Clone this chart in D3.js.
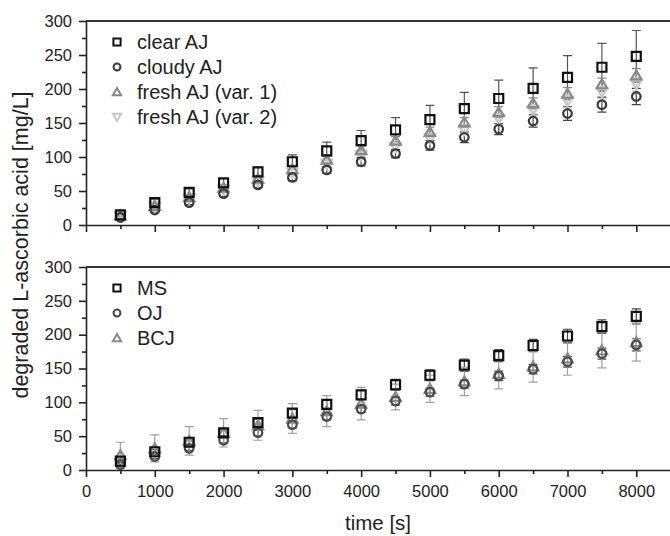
<!DOCTYPE html>
<html lang="en">
<head>
<meta charset="utf-8">
<title>Degraded L-ascorbic acid</title>
<script src="https://d3js.org/d3.v7.min.js"></script>
<style>
  body { margin: 0; background: #fff; }
  text { font-family: "Liberation Sans", Arial, sans-serif; fill: #222; }
</style>
</head>
<body>
<div id="chart"></div>
<script>
// time points [s]
var times = [500, 1000, 1500, 2000, 2500, 3000, 3500, 4000, 4500, 5000, 5500, 6000, 6500, 7000, 7500, 8000];

// top panel: apple juices
var clearAJ      = [15, 33, 48, 62, 78, 93, 109, 124, 140, 155, 171, 186, 201, 217, 232, 248];
var clearAJErr   = [3, 5, 5, 6, 7, 10, 13, 15, 18, 21, 24, 27, 30, 32, 35, 38];
var cloudyAJ     = [11, 22, 33, 46, 59, 70, 81, 93, 105, 117, 129, 141, 153, 164, 177, 189];
var cloudyAJErr  = [2, 3, 3, 4, 4, 5, 5, 6, 6, 7, 8, 8, 9, 10, 11, 12];
var freshAJ1     = [14, 28, 41, 55, 68, 82, 96, 110, 124, 137, 151, 166, 179, 193, 207, 220];
var freshAJ1Err  = [2, 3, 3, 4, 4, 5, 5, 6, 6, 7, 7, 8, 8, 9, 9, 10];
var freshAJ2     = [13, 27, 39, 52, 64, 77, 90, 102, 115, 127, 140, 156, 169, 182, 195, 207];
var freshAJ2Err  = [2, 3, 3, 4, 4, 5, 5, 6, 6, 7, 7, 8, 8, 9, 9, 10];

// bottom panel
var ms      = [13, 27, 41, 55, 70, 84, 97, 111, 126, 140, 155, 169, 184, 198, 212, 227];
var msErr   = [2, 3, 4, 4, 5, 6, 7, 7, 8, 8, 9, 9, 9, 10, 10, 11];
var oj      = [8, 20, 32, 44, 55, 67, 79, 90, 102, 115, 127, 139, 149, 160, 172, 185];
var ojErr   = [2, 3, 3, 4, 4, 5, 5, 5, 6, 6, 6, 7, 7, 8, 8, 9];
var bcj     = [22, 32, 43, 55, 66, 76, 87, 98, 108, 120, 131, 142, 153, 165, 177, 189];
var bcjErr  = [19, 20, 21, 21, 22, 22, 23, 24, 19, 20, 21, 22, 23, 25, 26, 28];

var yTicks = [0, 50, 100, 150, 200, 250, 300];
var xTicks = [0, 1000, 2000, 3000, 4000, 5000, 6000, 7000, 8000];

var W = 670, H = 536;
var left = 86, right = 670;

var svg = d3.select("#chart").append("svg")
    .attr("width", W).attr("height", H);

var x = d3.scaleLinear().domain([0, 8490]).range([left, right]);

var panels = [
    { top: 21, bottom: 225, labels: false,
      series: [
        { name: "clear AJ", vals: clearAJ, err: clearAJErr, shape: "square", color: "#111", errColor: "#555" },
        { name: "cloudy AJ", vals: cloudyAJ, err: cloudyAJErr, shape: "circle", color: "#3c3c3c", errColor: "#444" },
        { name: "fresh AJ (var. 1)", vals: freshAJ1, err: freshAJ1Err, shape: "up", color: "#888", errColor: "#888" },
        { name: "fresh AJ (var. 2)", vals: freshAJ2, err: freshAJ2Err, shape: "down", color: "#c8c8c8", errColor: "#c8c8c8" }
      ] },
    { top: 267, bottom: 470, labels: true,
      series: [
        { name: "MS", vals: ms, err: msErr, shape: "square", color: "#111", errColor: "#444" },
        { name: "OJ", vals: oj, err: ojErr, shape: "circle", color: "#4a4a4a", errColor: "#555" },
        { name: "BCJ", vals: bcj, err: bcjErr, shape: "up", color: "#8a8a8a", errColor: "#a0a0a0" }
      ] }
];

function markerPath(shape, k) {
    k = k || 1;
    var a = 4.5 * k, r = 4.3 * k, t = 5.2 * k, h1 = 5 * k, h2 = 4 * k;
    if (shape === "square") return "M" + -a + "," + -a + "H" + a + "V" + a + "H" + -a + "Z";
    if (shape === "circle") return "M" + r + ",0A" + r + "," + r + " 0 1,1 " + -r + ",0A" + r + "," + r + " 0 1,1 " + r + ",0Z";
    if (shape === "up") return "M0," + -h1 + "L" + t + "," + h2 + "H" + -t + "Z";
    return "M0," + h1 + "L" + t + "," + -h2 + "H" + -t + "Z";
}

panels.forEach(function(p) {
    var y = d3.scaleLinear().domain([0, 300]).range([p.bottom, p.top]);
    var g = svg.append("g");

    // minor ticks
    var minorY = d3.range(0, 301, 25).filter(function(d) { return d % 50 !== 0; });
    var minorX = d3.range(500, 8001, 1000);

    g.append("g")
        .attr("transform", "translate(" + left + ",0)")
        .call(d3.axisLeft(y).tickValues(minorY).tickSize(4).tickFormat(""))
        .call(function(s) { s.select(".domain").remove(); });
    g.append("g")
        .attr("transform", "translate(0," + p.bottom + ")")
        .call(d3.axisBottom(x).tickValues(minorX).tickSize(4).tickFormat(""))
        .call(function(s) { s.select(".domain").remove(); });

    var yAx = g.append("g")
        .attr("transform", "translate(" + left + ",0)")
        .call(d3.axisLeft(y).tickValues(yTicks).tickSize(7).tickSizeOuter(0).tickPadding(7));
    yAx.selectAll("text").style("font-size", "16.5px");

    var xAx = g.append("g")
        .attr("transform", "translate(0," + p.bottom + ")")
        .call(d3.axisBottom(x).tickValues(xTicks).tickSize(7).tickSizeOuter(0).tickPadding(8)
            .tickFormat(p.labels ? d3.format("d") : ""));
    xAx.selectAll("text").style("font-size", "16.5px");

    g.selectAll(".domain, .tick line").attr("stroke", "#222").attr("stroke-width", 1.6);

    // top frame line
    g.append("line")
        .attr("x1", left).attr("x2", right)
        .attr("y1", p.top).attr("y2", p.top)
        .attr("stroke", "#333").attr("stroke-width", 2);

    // error bars
    p.series.forEach(function(s) {
        var eg = g.append("g").attr("stroke", s.errColor).attr("stroke-width", 1.2).attr("fill", "none");
        var rows = times.map(function(t, i) { return { t: t, v: s.vals[i], e: s.err[i] }; });
        eg.selectAll("path").data(rows).enter().append("path")
            .attr("d", function(d) {
                var cx = x(d.t), y1 = y(d.v + d.e), y0 = y(d.v - d.e);
                return "M" + cx + "," + y1 + "V" + y0 +
                       "M" + (cx - 4.5) + "," + y1 + "H" + (cx + 4.5) +
                       "M" + (cx - 4.5) + "," + y0 + "H" + (cx + 4.5);
            });
    });

    // markers (drawn back to front)
    p.series.slice().reverse().forEach(function(s) {
        var rows = times.map(function(t, i) { return { t: t, v: s.vals[i] }; });
        g.append("g").selectAll("path").data(rows).enter().append("path")
            .attr("transform", function(d) { return "translate(" + x(d.t) + "," + y(d.v) + ")"; })
            .attr("d", markerPath(s.shape))
            .attr("fill", "none")
            .attr("stroke", s.color)
            .attr("stroke-width", 2.2);
    });

    // legend
    var lg = g.append("g");
    p.series.forEach(function(s, i) {
        var ly = p.top + 21 + i * 25;
        lg.append("path")
            .attr("transform", "translate(117," + ly + ")")
            .attr("d", markerPath(s.shape, 0.8))
            .attr("fill", "none").attr("stroke", s.color).attr("stroke-width", 2);
        lg.append("text")
            .attr("x", 137).attr("y", ly)
            .attr("dy", "0.36em")
            .style("font-size", "20px")
            .text(s.name);
    });
});

svg.append("text")
    .attr("transform", "translate(28,245) rotate(-90)")
    .style("text-anchor", "middle")
    .style("font-size", "21.5px")
    .text("degraded L-ascorbic acid [mg/L]");

svg.append("text")
    .attr("x", (left + right) / 2)
    .attr("y", 530)
    .style("text-anchor", "middle")
    .style("font-size", "20.5px")
    .text("time [s]");
</script>
</body>
</html>
